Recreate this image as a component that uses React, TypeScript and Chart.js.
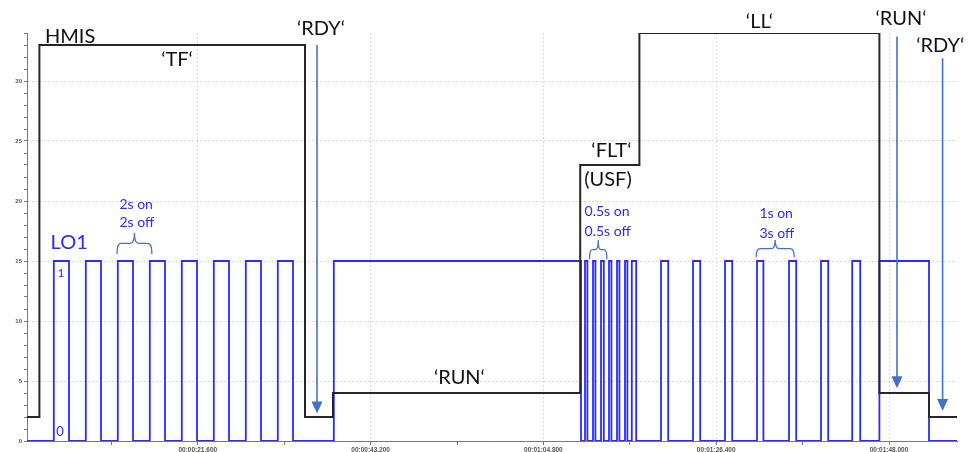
import React, { useEffect, useRef } from 'react';
import { Chart, registerables } from 'chart.js';

Chart.register(...registerables);

// ---- axis range (seconds / value) ----
const X_MIN = 0.25;
const X_MAX = 116.5;
const Y_MIN = 0;
const Y_MAX = 34;

// ---- tick values ----
const xMajorTicks = [21.6, 43.2, 64.8, 86.4, 108.0];
const xMinorTicks = [10.8, 32.4, 54.0, 75.6, 97.2];
const yMajorTicks = [0, 5, 10, 15, 20, 25, 30];
const yMinorTicks = [1, 2, 3, 4, 6, 7, 8, 9, 11, 12, 13, 14, 16, 17, 18, 19, 21, 22, 23, 24, 26, 27, 28, 29, 31, 32, 33, 34];

// ---- HMIS state: time of change (s) and level from that time ----
const hmisTimes = [0.25, 1.8, 35.0, 38.5, 69.4, 76.8, 106.8, 113.0, 116.5];
const hmisLevels = [2, 33, 2, 4, 23, 34, 4, 2, 2];

// ---- LO1 output: switch-on and switch-off times (s) ----
const lo1OnTimes = [3.6, 7.6, 11.6, 15.6, 19.6, 23.6, 27.6, 31.6, 38.6, 70.0, 71.0, 72.0, 73.0, 74.0, 75.0, 75.85, 79.5, 83.5, 87.5, 91.5, 95.5, 99.5, 103.4, 106.8];
const lo1OffTimes = [5.5, 9.5, 13.5, 17.5, 21.5, 25.5, 29.5, 33.5, 69.5, 70.3, 71.3, 72.35, 73.3, 74.3, 75.3, 76.4, 80.4, 84.4, 88.4, 92.3, 96.4, 100.4, 104.4, 113.0];
const LO1_HIGH = 15;
const LO1_LOW = 0;

// ---- annotations ----
const blackLabels = [
  { text: 'HMIS', t: 2.5, v: 33.2, align: 'left' },
  { text: '\u2018TF\u2018', t: 19.0, v: 31.25, align: 'center' },
  { text: '\u2018RDY\u2018', t: 37.0, v: 33.8, align: 'center' },
  { text: '\u2018RUN\u2018', t: 54.3, v: 4.75, align: 'center' },
  { text: '\u2018FLT\u2018', t: 73.3, v: 23.67, align: 'center' },
  { text: '(USF)', t: 69.9, v: 21.25, align: 'left' },
  { text: '\u2018LL\u2018', t: 91.8, v: 34.4, align: 'center' },
  { text: '\u2018RUN\u2018', t: 109.5, v: 34.67, align: 'center' },
  { text: '\u2018RDY\u2018', t: 114.4, v: 32.4, align: 'center' },
];
const blueLabels = [
  { text: '2s on', t: 11.8, v: 19.33, size: 14 },
  { text: '2s off', t: 11.8, v: 17.83, size: 14 },
  { text: 'LO1', t: 3.2, v: 16.0, size: 20 },
  { text: '1', t: 4.06, v: 13.67, size: 12 },
  { text: '0', t: 3.9, v: 0.42, size: 13 },
  { text: '0.5s on', t: 69.94, v: 18.75, size: 14 },
  { text: '0.5s off', t: 69.94, v: 17.08, size: 14 },
  { text: '1s on', t: 91.8, v: 18.58, size: 14 },
  { text: '3s off', t: 91.8, v: 16.92, size: 14 },
];
const braces = [
  { t1: 11.5, t2: 15.86, vTop: 17.36, vBottom: 15.58 },
  { t1: 70.56, t2: 72.74, vTop: 16.75, vBottom: 15.14 },
  { t1: 91.4, t2: 96.15, vTop: 16.75, vBottom: 15.31 },
];
const arrows = [
  { t: 36.5, vFrom: 33.0, vTo: 2.3 },
  { t: 109.0, vFrom: 33.7, vTo: 4.4 },
  { t: 114.7, vFrom: 31.9, vTo: 2.5 },
];

const ARROW_COLOR = '#4472C4';
const BLUE_TEXT = '#2b2bf5';
const LABEL_FONT = 'Lato, "Open Sans", sans-serif';

function fmtTime(s: number): string {
  const ms = Math.round(s * 1000);
  const h = Math.floor(ms / 3600000);
  const m = Math.floor((ms % 3600000) / 60000);
  const sec = Math.floor((ms % 60000) / 1000);
  const rest = ms % 1000;
  const p2 = (n: number) => String(n).padStart(2, '0');
  return `${p2(h)}:${p2(m)}:${p2(sec)},${String(rest).padStart(3, '0')}`;
}

function buildHmis() {
  return hmisTimes.map((t, i) => ({ x: t, y: hmisLevels[i] }));
}
function buildLo1() {
  const pts: { x: number; y: number }[] = [{ x: X_MIN, y: LO1_LOW }];
  lo1OnTimes.forEach((on, i) => {
    pts.push({ x: on, y: LO1_HIGH });
    pts.push({ x: lo1OffTimes[i], y: LO1_LOW });
  });
  pts.push({ x: X_MAX, y: LO1_LOW });
  return pts;
}

const annotationPlugin = {
  id: 'annotations',
  afterDatasetsDraw(chart: any) {
    const { ctx, scales } = chart;
    const xs = scales.x;
    const ys = scales.y;
    ctx.save();
    // arrows
    ctx.strokeStyle = ARROW_COLOR;
    ctx.fillStyle = ARROW_COLOR;
    ctx.lineWidth = 1.6;
    arrows.forEach((a) => {
      const px = xs.getPixelForValue(a.t);
      const y1 = ys.getPixelForValue(a.vFrom);
      const y2 = ys.getPixelForValue(a.vTo);
      ctx.beginPath();
      ctx.moveTo(px, y1);
      ctx.lineTo(px, y2 - 10);
      ctx.stroke();
      ctx.beginPath();
      ctx.moveTo(px - 5.5, y2 - 12);
      ctx.lineTo(px + 5.5, y2 - 12);
      ctx.lineTo(px, y2);
      ctx.closePath();
      ctx.fill();
    });
    // braces
    ctx.lineWidth = 1.3;
    braces.forEach((b) => {
      const x1 = xs.getPixelForValue(b.t1);
      const x2 = xs.getPixelForValue(b.t2);
      const yt = ys.getPixelForValue(b.vTop);
      const yb = ys.getPixelForValue(b.vBottom);
      const xm = (x1 + x2) / 2;
      const ymid = (yt + yb) / 2;
      const r = Math.min(4, (x2 - x1) / 6);
      ctx.beginPath();
      ctx.moveTo(x1, yb);
      ctx.quadraticCurveTo(x1, ymid, x1 + r, ymid);
      ctx.lineTo(xm - r, ymid);
      ctx.quadraticCurveTo(xm, ymid, xm, yt);
      ctx.quadraticCurveTo(xm, ymid, xm + r, ymid);
      ctx.lineTo(x2 - r, ymid);
      ctx.quadraticCurveTo(x2, ymid, x2, yb);
      ctx.stroke();
    });
    ctx.restore();
  },
  afterDraw(chart: any) {
    const { ctx, scales } = chart;
    const xs = scales.x;
    const ys = scales.y;
    ctx.save();
    ctx.textBaseline = 'alphabetic';
    ctx.fillStyle = '#111';
    ctx.font = `20px ${LABEL_FONT}`;
    blackLabels.forEach((l) => {
      ctx.textAlign = l.align as CanvasTextAlign;
      ctx.fillText(l.text, xs.getPixelForValue(l.t), ys.getPixelForValue(l.v));
    });
    ctx.fillStyle = BLUE_TEXT;
    ctx.textAlign = 'left';
    blueLabels.forEach((l) => {
      ctx.font = `${l.size}px ${LABEL_FONT}`;
      ctx.fillText(l.text, xs.getPixelForValue(l.t), ys.getPixelForValue(l.v));
    });
    ctx.restore();
  },
};

export default function App() {
  const canvasRef = useRef<HTMLCanvasElement | null>(null);

  useEffect(() => {
    const canvas = canvasRef.current;
    if (!canvas) return;
    const chart = new Chart(canvas, {
      type: 'line',
      data: {
        datasets: [
          {
            label: 'HMIS',
            data: buildHmis(),
            borderColor: '#262626',
            borderWidth: 2,
            stepped: true,
            pointRadius: 0,
            fill: false,
          },
          {
            label: 'LO1',
            data: buildLo1(),
            borderColor: '#2a2aff',
            borderWidth: 1.8,
            stepped: true,
            pointRadius: 0,
            fill: false,
          },
        ],
      },
      options: {
        animation: false,
        responsive: false,
        devicePixelRatio: 1,
        layout: { padding: { top: 33, right: 22, left: 0, bottom: 0 } },
        plugins: {
          legend: { display: false },
          tooltip: { enabled: false },
        },
        scales: {
          x: {
            type: 'linear',
            min: X_MIN,
            max: X_MAX,
            afterBuildTicks: (scale: any) => {
              scale.ticks = [...xMinorTicks, ...xMajorTicks]
                .sort((a, b) => a - b)
                .map((v) => ({ value: v }));
            },
            afterFit: (scale: any) => {
              scale.height = 11;
            },
            ticks: {
              autoSkip: false,
              maxRotation: 0,
              padding: 1,
              color: '#555',
              font: { size: 6.5, family: '"Liberation Sans", Arial, sans-serif', weight: 'bold' },
              callback: (value: any) => (xMajorTicks.some((m) => Math.abs(m - Number(value)) < 1e-6) ? fmtTime(Number(value)) : ''),
            },
            grid: {
              drawOnChartArea: true,
              tickLength: 4,
              color: (c: any) => (c.tick && xMajorTicks.some((m) => Math.abs(m - c.tick.value) < 1e-6) ? '#d9d9d9' : 'rgba(0,0,0,0)'),
              tickColor: '#777',
              lineWidth: 1,
            },
            border: { display: true, color: '#777', width: 1, dash: [2, 2] },
          },
          y: {
            type: 'linear',
            min: Y_MIN,
            max: Y_MAX,
            afterBuildTicks: (scale: any) => {
              scale.ticks = [...yMajorTicks, ...yMinorTicks]
                .sort((a, b) => a - b)
                .map((v) => ({ value: v }));
            },
            afterFit: (scale: any) => {
              scale.width = 27;
            },
            ticks: {
              autoSkip: false,
              padding: 2,
              color: '#555',
              font: { size: 6, family: '"Liberation Sans", Arial, sans-serif', weight: 'bold' },
              callback: (value: any) => (yMajorTicks.includes(Number(value)) ? String(value) : ''),
            },
            grid: {
              drawOnChartArea: true,
              tickLength: 3,
              color: (c: any) => (c.tick && yMajorTicks.includes(c.tick.value) && c.tick.value !== 0 ? '#d9d9d9' : 'rgba(0,0,0,0)'),
              tickColor: '#777',
              lineWidth: 1,
            },
            border: { display: true, color: '#777', width: 1, dash: [2, 2] },
          },
        },
      },
      plugins: [annotationPlugin],
    } as any);
    return () => chart.destroy();
  }, []);

  return (
    <div style={{ position: 'fixed', left: 0, top: 0, width: 979, height: 452, background: '#fff' }}>
      <canvas ref={canvasRef} width={979} height={452} style={{ display: 'block', width: 979, height: 452 }} />
    </div>
  );
}
